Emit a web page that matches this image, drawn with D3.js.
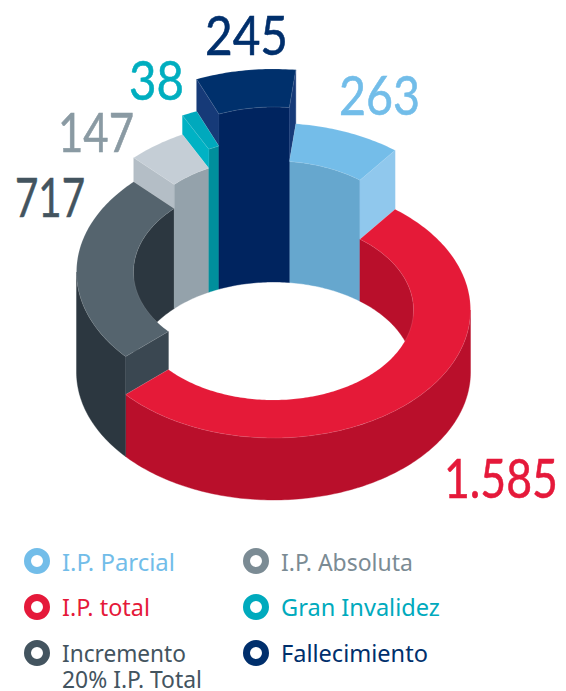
<!DOCTYPE html>
<html>
<head>
<meta charset="utf-8">
<script src="https://cdn.jsdelivr.net/npm/d3@7"></script>
<style>html,body{margin:0;padding:0;background:#fff}svg{display:block}</style>
</head>
<body>
<script>
// ---- data ----
const categories = ["I.P. Parcial", "I.P. total", "Incremento 20% I.P. Total", "I.P. Absoluta", "Gran Invalidez", "Fallecimiento"];
const values = [263, 1585, 717, 147, 38, 245];
const legendColors = ["#72bde9", "#e5193a", "#43545f", "#7b8b94", "#00aabd", "#002f6c"];
const valueColors  = ["#72bde9", "#e5193a", "#43545f", "#8a9aa3", "#00aebf", "#002f6c"];
const topColors    = ["#74bde9", "#e51a38", "#55646e", "#c5ced6", "#00a9bd", "#00306c"];
const innerColors  = ["#66a7ce", "#b90f2b", "#2c3740", "#94a2ab", "#008f9c", "#00245f"];
const outerColors  = ["#66a7ce", "#b90f2b", "#2c3740", "#94a2ab", "#008f9c", "#00245f"];
const sideColors   = ["#90c8ed", "#b90f2b", "#3a4751", "#b4bec6", "#00b2c4", "#163a78"];

// ---- layout ----
const W = 566, H = 691;
const deg = Math.PI / 180;
const extrusion = [121, 62, 100, 124, 143, 175];
const ring = {cx: 273.5, groundY: 372, rx: 197, ry: 128, irx: 140, iry: 90};
const valueLabelLayout = [
  {x: 339, y: 115, w: 81}, {x: 444, y: 498, w: 114}, {x: 15, y: 217, w: 70},
  {x: 58, y: 152, w: 76}, {x: 129, y: 100, w: 55}, {x: 205, y: 55, w: 83}
];
const legendLayout = [
  {cx: 37, cy: 561, lines: [[62, 571, 113]]},
  {cx: 37, cy: 607, lines: [[62, 616, 88]]},
  {cx: 37, cy: 653, lines: [[62, 662, 124], [62, 688, 140]]},
  {cx: 256, cy: 561, lines: [[281, 571, 132]]},
  {cx: 256, cy: 607, lines: [[281, 616, 159]]},
  {cx: 256, cy: 653, lines: [[281, 662, 147]]}
];
const legendLines = [["I.P. Parcial"], ["I.P. total"], ["Incremento", "20% I.P. Total"], ["I.P. Absoluta"], ["Gran Invalidez"], ["Fallecimiento"]];

const svg = d3.select("body").append("svg").attr("width", W).attr("height", H);
const FONT = "'Noto Sans', sans-serif";

const start = 6.5 * deg;
const pie = d3.pie().sort(null).value(d => d).startAngle(start).endAngle(start + 2 * Math.PI);
const slices = pie(values);

const sx = d3.scaleLinear().domain([-1, 1]).range([ring.cx - ring.rx, ring.cx + ring.rx]);
const sy = d3.scaleLinear().domain([-1, 1]).range([ring.groundY - ring.ry, ring.groundY + ring.ry]);
const k = ring.irx / ring.rx, ky = ring.iry / ring.ry;
const line = d3.line();

const P = (a, e, h) => {
  const fx = e === "o" ? 1 : k, fy = e === "o" ? 1 : ky;
  return [sx(fx * Math.sin(a)), sy(-fy * Math.cos(a)) - h];
};
const curve = (a0, a1, e, h) => {
  const n = Math.max(2, Math.ceil(Math.abs(a1 - a0) / (1 * deg)));
  return d3.range(n + 1).map(i => P(a0 + (a1 - a0) * i / n, e, h));
};
const face = (pts, fill, seam) => svg.append("path")
  .attr("d", line(pts) + "Z").attr("fill", fill)
  .attr("stroke", seam ? "#fff" : fill).attr("stroke-opacity", seam ? 0.3 : 1)
  .attr("stroke-width", 0.4).attr("stroke-linejoin", "round");

const clip = (a0, a1, lo, hi) => {
  const b0 = Math.max(a0, lo), b1 = Math.min(a1, hi);
  return b1 > b0 ? [b0, b1] : null;
};
const T = 2 * Math.PI;

// inner walls: facing the viewer on the back half of the ring
slices.forEach((s, i) => {
  const h = extrusion[i];
  [[-Math.PI / 2, Math.PI / 2], [T - Math.PI / 2, T + Math.PI / 2]].forEach(([lo, hi]) => {
    const c = clip(s.startAngle, s.endAngle, lo, hi);
    if (c) face(curve(c[0], c[1], "i", h).concat(curve(c[1], c[0], "i", 0)), innerColors[i]);
  });
});

// outer walls: facing the viewer on the front half of the ring
slices.forEach((s, i) => {
  const c = clip(s.startAngle, s.endAngle, Math.PI / 2, 3 * Math.PI / 2);
  if (c) face(curve(c[0], c[1], "o", extrusion[i]).concat(curve(c[1], c[0], "o", 0)), outerColors[i]);
});

// radial step walls between neighbouring segments; belongs to the taller one
slices.forEach((s, i) => {
  const j = (i + 1) % slices.length;
  const a = s.endAngle;
  const tall = extrusion[i] > extrusion[j] ? i : j;
  const hi = Math.max(extrusion[i], extrusion[j]), lo = Math.min(extrusion[i], extrusion[j]);
  face([P(a, "o", hi), P(a, "i", hi), P(a, "i", lo), P(a, "o", lo)], sideColors[tall]);
});

// top faces
slices.forEach((s, i) => {
  const h = extrusion[i];
  face(curve(s.startAngle, s.endAngle, "o", h).concat(curve(s.endAngle, s.startAngle, "i", h)), topColors[i], true);
});

// squeeze a text horizontally to its measured width in the picture
const fit = (sel, x, y, w) => {
  const natural = sel.node().getComputedTextLength();
  sel.attr("transform", `translate(${x},${y}) scale(${w / natural},1)`);
};

// value labels
const fmt = d3.formatLocale({decimal: ",", thousands: ".", grouping: [3], currency: ["", ""]}).format(",");
values.forEach((v, i) => {
  const l = valueLabelLayout[i];
  const t = svg.append("text")
    .attr("font-family", "Lato, 'Noto Sans', sans-serif").attr("font-size", 55)
    .attr("stroke", valueColors[i]).attr("stroke-width", 0.6)
    .attr("fill", valueColors[i]).text(fmt(v));
  fit(t, l.x, l.y, l.w);
});

// legend
categories.forEach((c, i) => {
  const g = svg.append("g");
  g.append("circle")
    .attr("cx", legendLayout[i].cx).attr("cy", legendLayout[i].cy)
    .attr("r", 9.5).attr("fill", "#fff").attr("stroke-width", 7)
    .attr("stroke", legendColors[i]);
  legendLines[i].forEach((line, n) => {
    const [x, y, w] = legendLayout[i].lines[n];
    const t = g.append("text")
      .attr("font-family", FONT).attr("font-size", 23)
      .attr("fill", legendColors[i]).text(line);
    fit(t, x, y, w);
  });
});
</script>
</body>
</html>
